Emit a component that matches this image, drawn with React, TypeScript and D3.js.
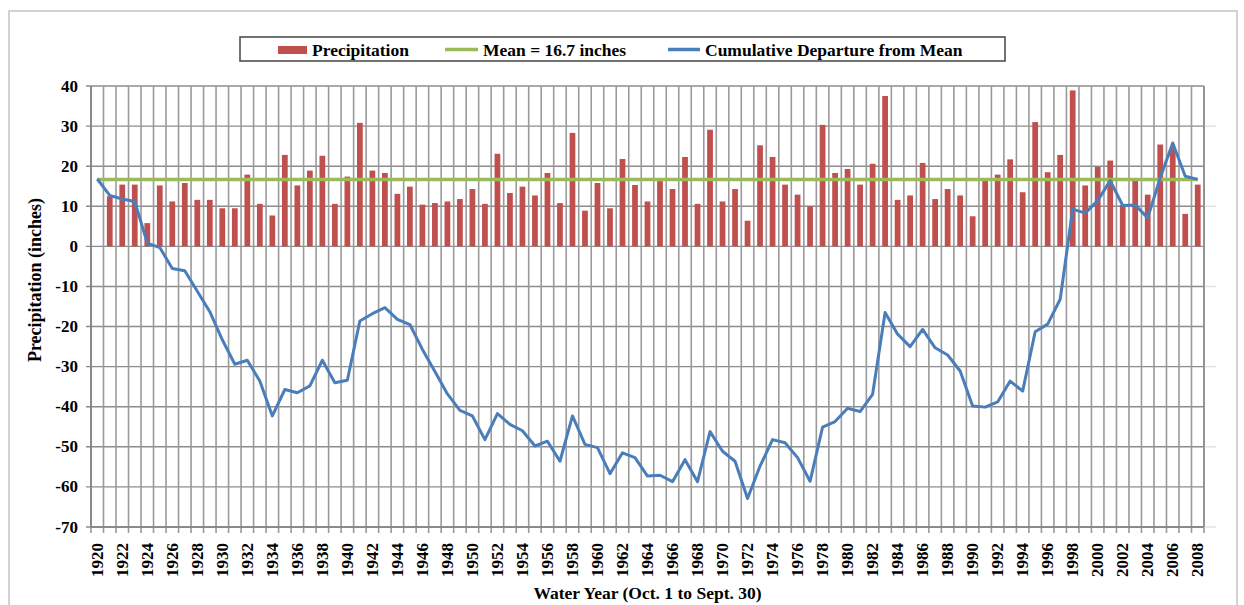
import React from "react";
import * as d3 from "d3";

const years: number[] = [
  1920, 1921, 1922, 1923, 1924, 1925, 1926, 1927, 1928, 1929,
  1930, 1931, 1932, 1933, 1934, 1935, 1936, 1937, 1938, 1939,
  1940, 1941, 1942, 1943, 1944, 1945, 1946, 1947, 1948, 1949,
  1950, 1951, 1952, 1953, 1954, 1955, 1956, 1957, 1958, 1959,
  1960, 1961, 1962, 1963, 1964, 1965, 1966, 1967, 1968, 1969,
  1970, 1971, 1972, 1973, 1974, 1975, 1976, 1977, 1978, 1979,
  1980, 1981, 1982, 1983, 1984, 1985, 1986, 1987, 1988, 1989,
  1990, 1991, 1992, 1993, 1994, 1995, 1996, 1997, 1998, 1999,
  2000, 2001, 2002, 2003, 2004, 2005, 2006, 2007, 2008,
];

const precipitation: (number | null)[] = [
  null, 12.5, 15.4, 15.4, 5.8, 15.2, 11.2, 15.8, 11.6, 11.6,
  9.5, 9.5, 17.9, 10.6, 7.7, 22.8, 15.2, 18.9, 22.6, 10.6,
  17.4, 30.8, 18.9, 18.3, 13.1, 14.9, 10.4, 10.8, 11.2, 11.8,
  14.3, 10.6, 23.1, 13.3, 14.9, 12.7, 18.3, 10.8, 28.3, 8.9,
  15.8, 9.5, 21.8, 15.3, 11.2, 16.3, 14.3, 22.3, 10.6, 29.1,
  11.2, 14.3, 6.4, 25.2, 22.3, 15.4, 12.9, 10.0, 30.3, 18.3,
  19.3, 15.4, 20.6, 37.5, 11.6, 12.7, 20.8, 11.8, 14.3, 12.7,
  7.5, 16.3, 17.9, 21.7, 13.5, 31.0, 18.5, 22.8, 38.9, 15.2,
  19.8, 21.4, 10.3, 16.3, 12.9, 25.4, 24.5, 8.1, 15.4,
];

const cumulativeDeparture: number[] = [
  16.8, 12.7, 11.8, 11.2, 0.8, -0.3, -5.5, -6.1, -11.2, -16.3,
  -23.3, -29.4, -28.4, -33.6, -42.3, -35.7, -36.5, -34.8, -28.4, -34.0,
  -33.4, -18.6, -16.8, -15.3, -18.2, -19.5, -25.7, -31.2, -36.8, -40.9,
  -42.3, -48.2, -41.7, -44.4, -46.0, -49.8, -48.6, -53.6, -42.3, -49.4,
  -50.2, -56.7, -51.5, -52.7, -57.3, -57.1, -58.7, -53.2, -58.7, -46.2,
  -51.1, -53.6, -62.9, -54.8, -48.2, -49.0, -52.7, -58.6, -45.1, -43.7,
  -40.4, -41.2, -36.9, -16.5, -21.9, -25.0, -20.7, -25.3, -27.1, -31.1,
  -39.8, -40.1, -38.8, -33.6, -36.1, -21.3, -19.4, -13.2, 9.3, 8.3,
  11.4, 16.4, 10.2, 10.3, 7.1, 17.1, 25.8, 17.5, 16.7,
];

const meanValue = 16.7;
const yTicks: number[] = [40, 30, 20, 10, 0, -10, -20, -30, -40, -50, -60, -70];
const rightTicks: number[] = [30, 10, -10, -30, -50, -70];
const legendLabels: string[] = ["Precipitation", "Mean = 16.7 inches", "Cumulative Departure from Mean"];

const W = 1244;
const H = 605;
const left = 91;
const right = 1204;
const top = 86;
const bottom = 527;
const FONT = "'Liberation Serif', 'Times New Roman', serif";

const RED = "#C0504D";
const GREEN = "#9BBB59";
const BLUE = "#4A7EBB";

export default function App() {
  const x = d3.scaleBand<number>().domain(years).range([left, right]).padding(0);
  const y = d3.scaleLinear().domain([-70, 40]).range([bottom, top]);
  const bw = x.bandwidth();
  const cx = (yr: number) => (x(yr) as number) + bw / 2;
  const barW = bw * 0.46;

  const line = d3
    .line<number>()
    .x((_, i) => cx(years[i]))
    .y((d) => y(d));

  const boundaries = years.map((yr) => x(yr) as number).concat([right]);

  return (
    <svg
      width={W}
      height={H}
      style={{ position: "absolute", left: 0, top: 0, background: "#fff" }}
      fontFamily={FONT}
    >
      <rect x={9} y={11} width={1228} height={610} fill="#fff" stroke="#c4c4c4" strokeWidth={1.5} />

      {/* legend */}
      <rect x={240} y={37} width={765} height={24} fill="#fff" stroke="#444" strokeWidth={1.5} />
      <rect x={278} y={46} width={29} height={8} fill={RED} />
      <text x={312} y={55.5} fontSize={17.5} fontWeight="bold" fill="#000">{legendLabels[0]}</text>
      <line x1={445} x2={478} y1={49.5} y2={49.5} stroke={GREEN} strokeWidth={3.5} />
      <text x={483} y={55.5} fontSize={17.5} fontWeight="bold" fill="#000">{legendLabels[1]}</text>
      <line x1={668} x2={700} y1={49.5} y2={49.5} stroke={BLUE} strokeWidth={3.5} />
      <text x={705} y={55.5} fontSize={17.5} fontWeight="bold" fill="#000">{legendLabels[2]}</text>

      {/* horizontal gridlines */}
      {yTicks.map((t) => (
        <line key={"h" + t} x1={left - 5} x2={right} y1={y(t)} y2={y(t)} stroke="#8c8c8c" strokeWidth={1.4} />
      ))}
      {/* vertical gridlines */}
      {boundaries.map((bx, i) => (
        <line key={"v" + i} x1={bx} x2={bx} y1={top} y2={bottom + 6} stroke="#9a9a9a" strokeWidth={1.6} />
      ))}
      {/* right faint ticks */}
      {rightTicks.map((t) => (
        <line key={"r" + t} x1={right} x2={right + 12} y1={y(t)} y2={y(t)} stroke="#e2e2e2" strokeWidth={1.5} />
      ))}
      {/* axes */}
      <line x1={left} x2={left} y1={top} y2={bottom} stroke="#808080" strokeWidth={1.6} />
      <line x1={left} x2={right} y1={bottom} y2={bottom} stroke="#808080" strokeWidth={1.6} />
      <line x1={right} x2={right} y1={top} y2={bottom} stroke="#8c8c8c" strokeWidth={1.6} />

      {/* bars */}
      {precipitation.map((v, i) =>
        v == null ? null : (
          <rect
            key={"b" + i}
            x={cx(years[i]) - barW / 2}
            y={y(v)}
            width={barW}
            height={y(0) - y(v)}
            fill={RED}
          />
        )
      )}

      {/* mean line */}
      <line
        x1={cx(years[0])}
        x2={cx(years[years.length - 1])}
        y1={y(meanValue)}
        y2={y(meanValue)}
        stroke={GREEN}
        strokeWidth={3.5}
      />

      {/* cumulative departure */}
      <path d={line(cumulativeDeparture) || ""} fill="none" stroke={BLUE} strokeWidth={3} strokeLinejoin="round" />

      {/* y tick labels */}
      {yTicks.map((t) => (
        <text
          key={"yt" + t}
          x={78}
          y={y(t)}
          textAnchor="end"
          dominantBaseline="central"
          fontSize={17}
          fontWeight="bold"
          fill="#000"
        >
          {t}
        </text>
      ))}

      {/* x tick labels */}
      {years
        .filter((yr) => (yr - 1920) % 2 === 0)
        .map((yr) => (
          <text
            key={"xt" + yr}
            transform={`translate(${cx(yr)},${543}) rotate(-90)`}
            textAnchor="end"
            dominantBaseline="central"
            fontSize={17}
            fontWeight="bold"
            fill="#000"
          >
            {yr}
          </text>
        ))}

      {/* axis titles */}
      <text
        transform={`translate(35,${280}) rotate(-90)`}
        textAnchor="middle"
        dominantBaseline="central"
        fontSize={18}
        fontWeight="bold"
        fill="#000"
      >
        Precipitation (inches)
      </text>
      <text x={(left + right) / 2} y={599} textAnchor="middle" fontSize={17.5} fontWeight="bold" fill="#000">
        Water Year (Oct. 1 to Sept. 30)
      </text>
    </svg>
  );
}
